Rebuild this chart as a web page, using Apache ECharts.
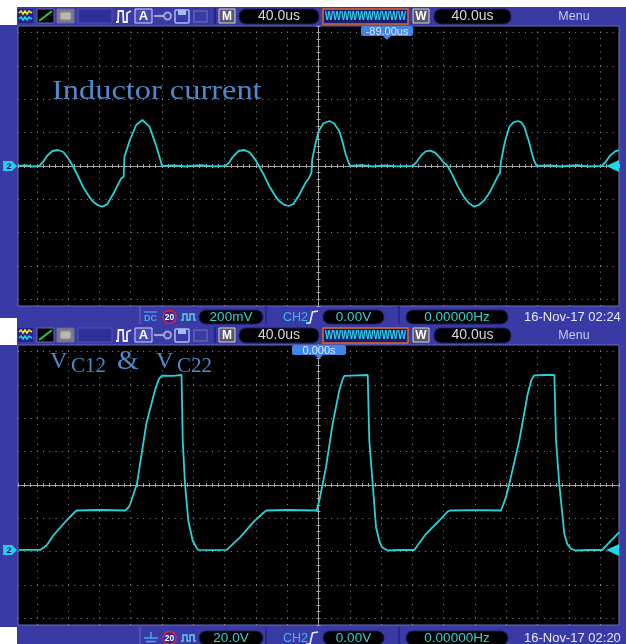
<!DOCTYPE html>
<html><head><meta charset="utf-8">
<script src="https://cdn.jsdelivr.net/npm/echarts@6/dist/echarts.min.js"></script>
<style>html,body{margin:0;padding:0;background:#fff}#c{width:626px;height:644px}</style>
</head><body><div id="c"></div>
<script>
// ---------- data (time in us, 40 us/div) ----------
// Inductor current trace (mV, 200 mV/div)
const currentT = [-383,-375,-366,-357,-352,-347,-340,-333,-326,-320,-314,-308,-301,-293,-288,-282,-276,-270,-262,-255,-252,-249,-248,-241,-233,-225,-216,-207,-202,-200,
  -185,-170,-150,-135,-119,-114,-109,-102,-95,-88,-82,-76,-70,-63,-55,-50,-44,-38,-32,-24,-17,-12,-9,-8,-4,0,6,14,20,27,31,35,39,40,
  55,70,85,100,120,125,131,137,143,149,155,159,165,171,178,186,192,199,205,212,218,224,230,232,233,237,240,244,249,255,259,263,269,273,276,279,
  295,310,330,345,362,367,372,379,384];
const currentMV = [0,5,-3,0,24,60,90,96,84,48,0,-54,-124,-185,-214,-235,-244,-230,-165,-100,-74,-64,56,156,246,276,236,116,36,0,
  4,-3,5,-2,0,22,58,90,96,82,46,0,-52,-120,-182,-212,-232,-240,-228,-168,-104,-70,-40,40,130,206,255,270,255,206,140,66,16,0,
  5,-3,4,-2,0,22,62,88,92,80,50,26,0,-52,-122,-186,-222,-244,-234,-205,-164,-110,-54,-40,20,120,176,236,262,270,262,236,146,70,26,0,
  4,-3,5,-2,0,24,60,88,95];
// V_C12 & V_C22 trace (V, 20 V/div)
const voltT = [-383,-355,-347,-339,-322,-312,-309,-280,-247,-243,-241,-232,-220,-209,-204,-200,-186,-175,-173.5,-170.6,-166.4,-160.8,-156,-153.6,-135,-117.3,
  -100.3,-83.3,-70,-66.2,-40,-2.3,1,5.4,9.6,18.1,26.6,31,33,50,62.9,64.9,69.3,73.5,78,81.2,88.4,105,122.4,137.4,154.4,165,168.1,200,
  233.2,239.6,243.8,256.6,267.4,272,275.8,290,301.4,303.5,307.7,314.1,318,322.7,329.1,345,362.3,384.4];
const voltV = [-38.9,-38.9,-36,-30.3,-21.3,-16.5,-15.3,-15.0,-15.3,-13.5,-12.0,0.7,36.8,56.8,63.5,65.6,65.5,66.0,26.7,0.7,-21.3,-33.3,-37.5,-38.9,-39.1,-38.9,
  -31.4,-22.3,-16.5,-15.3,-15.0,-15.3,-9.3,0.7,10.7,36.8,56.8,63.5,65.5,65.8,66.0,26.7,0.7,-25.3,-34,-37.4,-39.3,-39.0,-39.0,-29.3,-21.3,-16,-15.3,-15.1,
  -15.3,-7.3,0.7,26.7,54.8,63,65.8,66.0,66.0,26.7,0.7,-29.3,-35.5,-38.3,-39.3,-39.0,-39.0,-28.3];
// graticule divisions
const divX = [-360,-320,-280,-240,-200,-160,-120,-80,-40,40,80,120,160,200,240,280,320,360];
const divYTop = [-800,-600,-400,-200,200,400,600,800];
const divYBot = [-80,-60,-40,-20,20,40,60,80];
// texts
const timeBase = '40.0us';
const scaleTop = '200mV', scaleBot = '20.0V';
const trigLevel = '0.00V', freqText = '0.00000Hz';
const dateTop = '16-Nov-17 02:24', dateBot = '16-Nov-17 02:20';
const markTop = '-89.00us', markBot = '0.000s';
const titleTop = 'Inductor current';

// ---------- styling ----------
const BLUE = '#3a3aa6', DARKSEP = '#26267e', TRACE = '#25d3d6', GRAT = '#8e8e8e', CENTER = '#a4a4a4', LABEL = '#4f89cc';
const SANS = '"Liberation Sans", Arial, sans-serif';
const SERIF = '"Liberation Serif", "Times New Roman", serif';

function pair(a, b) { return a.map((t, i) => [t, b[i]]); }

function tstyle(text, x, y, font, color, align, valign) {
  return { text, x, y, fill: color, font, textAlign: align || 'center', align: align || 'center',
    textVerticalAlign: valign || 'middle', verticalAlign: valign || 'middle' };
}
function txt(text, x, y, size, color, align) {
  return { type: 'text', z: 22, style: tstyle(text, x, y, size + 'px ' + SANS, color, align) };
}
function btxt(text, x, y, size, color) {
  return { type: 'text', z: 22, style: tstyle(text, x, y, 'bold ' + size + 'px ' + SANS, color) };
}
function rect(x, y, w, h, fill, stroke, r, lw) {
  return { type: 'rect', z: 20, shape: { x, y, width: w, height: h, r: r || 0 }, style: { fill: fill, stroke: stroke || null, lineWidth: lw || 1 } };
}
function pl(points, stroke, lw) { return { type: 'polyline', z: 21, shape: { points }, style: { stroke, lineWidth: lw || 1, fill: null } }; }
function ln(x1, y1, x2, y2, stroke, lw) { return { type: 'line', z: 21, shape: { x1, y1, x2, y2 }, style: { stroke, lineWidth: lw || 1 } }; }

function toolbar(oy) {
  const e = [];
  e.push(rect(18, oy + 9, 15, 14, '#22228a'));
  e.push(pl([[19, oy + 13], [21, oy + 11], [23, oy + 14], [25, oy + 11], [27, oy + 14], [29, oy + 11], [32, oy + 13]], '#f2e21e', 1.6));
  e.push(pl([[19, oy + 19], [21, oy + 17], [23, oy + 20], [25, oy + 17], [27, oy + 20], [29, oy + 17], [32, oy + 19]], '#22d0e4', 1.6));
  e.push(rect(37, oy + 9, 17, 14, '#000', '#6a6ab4'));
  e.push(ln(39, oy + 21, 52, oy + 11, '#22cc44', 2));
  e.push(rect(57, oy + 9, 17, 14, '#7a7a7a', '#6a6ab4'));
  e.push(rect(60, oy + 12, 11, 8, '#b8b8b8', '#8a8a8a', 2));
  e.push(rect(78, oy + 9, 34, 14, '#2f2f98', '#5252b4'));
  e.push(pl([[116, oy + 22], [118, oy + 22], [118.5, oy + 11], [123, oy + 11], [123.5, oy + 22], [127, oy + 22], [127, oy + 13], [131, oy + 11]], '#f0f0ff', 1.8));
  e.push(rect(135, oy + 9, 17, 14, '#4848b8', '#cfd6f4'));
  e.push(btxt('A', 143.5, oy + 16.5, 13, '#ffffff'));
  e.push(ln(154, oy + 16, 164, oy + 16, '#a2a2d0', 2.2));
  e.push({ type: 'circle', z: 21, shape: { cx: 167.5, cy: oy + 16, r: 3.5 }, style: { fill: null, stroke: '#a2a2d0', lineWidth: 2 } });
  e.push(rect(175, oy + 10, 14, 13, '#3a3aa6', '#a6bcf4', 1, 1.5));
  e.push(rect(178, oy + 10, 8, 5, '#a6bcf4'));
  e.push(rect(194, oy + 11, 13, 11, null, '#6262ae', 0, 1.5));
  e.push(ln(215, oy + 8, 215, oy + 24, DARKSEP, 2));
  e.push(rect(219, oy + 9, 16, 14, '#58586a', '#d4d4d4'));
  e.push(btxt('M', 227, oy + 16.5, 12, '#ffffff'));
  e.push(rect(239, oy + 9, 80, 15, '#000', '#1e1e60', 7));
  e.push(txt(timeBase, 279, oy + 16.5, 14, '#d8d8d8'));
  e.push(rect(323, oy + 9, 85, 15, '#1c1c70', '#e06a22', 0, 1.5));
  e.push({ type: 'text', z: 22, scaleX: 0.66, originX: 365.5, originY: oy + 16.5,
    style: tstyle('WWWWWWWWWW', 365.5, oy + 16.5, 'bold 13px ' + SANS, '#2ad6e6') });
  e.push(rect(413, oy + 9, 16, 14, '#58586a', '#d4d4d4'));
  e.push(btxt('W', 421, oy + 16.5, 12, '#ffffff'));
  e.push(rect(434, oy + 9, 77, 15, '#000', '#1e1e60', 7));
  e.push(txt(timeBase, 472.5, oy + 16.5, 14, '#d8d8d8'));
  e.push(txt('Menu', 574, oy + 17, 12.5, '#c2c8f0'));
  return e;
}

function status(oy, scale, date, ground) {
  const e = [];
  e.push(ln(140, oy + 306, 140, oy + 324, '#6c6cc0', 1));
  if (ground) {
    e.push(ln(151, oy + 311, 151, oy + 317, '#42aaf2', 1.5));
    e.push(ln(144, oy + 317, 158, oy + 317, '#42aaf2', 1.5));
    e.push(ln(146, oy + 320.5, 156, oy + 320.5, '#42aaf2', 1.5));
  } else {
    e.push(ln(144, oy + 312, 157, oy + 312, '#42aaf2', 1.2));
    e.push(btxt('DC', 150.5, oy + 318.5, 9, '#42aaf2'));
  }
  e.push({ type: 'circle', z: 21, shape: { cx: 169.5, cy: oy + 317, r: 6.5 }, style: { fill: '#2a2aa8', stroke: '#e02030', lineWidth: 1.5 } });
  e.push(btxt('20', 169.5, oy + 317.5, 8.5, '#ffffff'));
  e.push(pl([[181, oy + 320], [183, oy + 320], [183, oy + 314], [187, oy + 314], [187, oy + 320], [190, oy + 320], [190, oy + 314], [194, oy + 314], [194, oy + 320], [196, oy + 320]], '#5ccae8', 1.5));
  e.push(rect(199, oy + 310, 64, 14, '#000', '#1e1e60', 7));
  e.push(txt(scale, 231, oy + 317.5, 13.5, '#2fd4d4'));
  e.push(ln(266, oy + 306, 266, oy + 324, DARKSEP, 1.5));
  e.push(txt('CH2', 283, oy + 317.5, 12.5, '#40b6f6', 'left'));
  e.push(pl([[306, oy + 323], [310, oy + 323], [312.5, oy + 312], [318, oy + 311]], '#dcefff', 1.6));
  e.push(rect(323, oy + 310, 61, 14, '#000', '#1e1e60', 7));
  e.push(txt(trigLevel, 353.5, oy + 317.5, 13.5, '#2fd4d4'));
  e.push(ln(399, oy + 306, 399, oy + 324, DARKSEP, 1.5));
  e.push(rect(406, oy + 310, 102, 14, '#000', '#1e1e60', 7));
  e.push(txt(freqText, 457, oy + 317.5, 13.5, '#2fd4d4'));
  e.push(txt(date, 524, oy + 317.5, 13, '#e6e6f6', 'left'));
  return e;
}

function marker(x, y, w, label, px) {
  return [
    rect(x, y, w, 10, '#3f86e8', null, 2),
    { type: 'polygon', z: 21, shape: { points: [[px - 4, y + 10], [px + 4, y + 10], [px, y + 14]] }, style: { fill: '#3f86e8' } },
    txt(label, x + w / 2, y + 5.5, 11, '#dcecff')
  ];
}
function chMarker(cy) {
  return [
    { type: 'polygon', z: 21, shape: { points: [[3, cy - 5], [12, cy - 5], [17, cy], [12, cy + 5], [3, cy + 5]] }, style: { fill: '#22d0e4' } },
    btxt('2', 9, cy + 0.5, 9, '#1c1c7a')
  ];
}
function trigMarker(cy) {
  return { type: 'polygon', z: 21, shape: { points: [[619, cy - 6], [619, cy + 6], [606, cy]] }, style: { fill: '#22d6e6' } };
}
function serif(text, x, y, size) {
  return { type: 'text', z: 22, style: tstyle(text, x, y, size + 'px ' + SERIF, LABEL, 'left', 'bottom') };
}

const graphics = [].concat(
  [{ type: 'rect', z: -10, shape: { x: 17, y: 7, width: 609, height: 637 }, style: { fill: BLUE } },
   { type: 'rect', z: -10, shape: { x: 0, y: 25, width: 17, height: 293 }, style: { fill: BLUE } },
   { type: 'rect', z: -10, shape: { x: 0, y: 345, width: 17, height: 282 }, style: { fill: BLUE } }],
  toolbar(0), status(0, scaleTop, dateTop, false),
  toolbar(319), status(321, scaleBot, dateBot, true),
  marker(361, 26, 52, markTop, 387), marker(292, 345, 54, markBot, 319),
  chMarker(166), chMarker(550), [trigMarker(166), trigMarker(550)],
  [{ type: 'text', z: 22, scaleX: 1.2, originX: 52, originY: 92,
     style: tstyle(titleTop, 52, 92, '27px ' + SERIF, LABEL, 'left', 'middle') },
   serif('V', 50, 374, 24),
   serif('C12', 71, 377, 21),
   serif('&', 117, 375.5, 28),
   serif('V', 156, 374, 24),
   serif('C22', 177, 377, 21)]
);

function xAx(grid, pos, zeroIdx) {
  return { type: 'value', gridIndex: grid, position: pos, min: -384, max: 384, interval: 8,
    axisLine: { show: true, onZero: true, onZeroAxisIndex: zeroIdx, lineStyle: { color: CENTER, width: 1 } },
    axisTick: { show: true, length: 2, lineStyle: { color: CENTER } }, axisLabel: { show: false }, splitLine: { show: false } };
}
function yAx(grid, pos, zeroIdx, lim, step) {
  return { type: 'value', gridIndex: grid, position: pos, min: -lim, max: lim, interval: step,
    axisLine: { show: true, onZero: true, onZeroAxisIndex: zeroIdx, lineStyle: { color: CENTER, width: 1 } },
    axisTick: { show: true, length: 2, lineStyle: { color: CENTER } }, axisLabel: { show: false }, splitLine: { show: false } };
}
function graticule(xi, yi, divY) {
  return { type: 'line', xAxisIndex: xi, yAxisIndex: yi, data: [[0, 0]], showSymbol: false, symbol: 'none', z: 1,
    lineStyle: { opacity: 0 }, silent: true, animation: false,
    markLine: { silent: true, symbol: ['none', 'none'], animation: false, label: { show: false },
      lineStyle: { color: GRAT, width: 1, type: [1, 5.26] },
      data: divX.map(v => ({ xAxis: v, lineStyle: { color: GRAT, width: 1, type: [1, 5.67] } }))
        .concat(divY.map(v => ({ yAxis: v }))) } };
}

const chart = echarts.init(document.getElementById('c'), null, { renderer: 'canvas', width: 626, height: 644 });
chart.setOption({
  animation: false,
  backgroundColor: '#ffffff',
  grid: [
    { left: 18, top: 26, width: 601, height: 280, show: true, backgroundColor: '#000', borderColor: '#6a6ab8', borderWidth: 1 },
    { left: 18, top: 345, width: 601, height: 280, show: true, backgroundColor: '#000', borderColor: '#6a6ab8', borderWidth: 1 }
  ],
  xAxis: [xAx(0, 'bottom', 0), xAx(0, 'top', 0), xAx(1, 'bottom', 2), xAx(1, 'top', 2)],
  yAxis: [yAx(0, 'left', 0, 840, 40), yAx(0, 'right', 0, 840, 40), yAx(1, 'left', 2, 84, 4), yAx(1, 'right', 2, 84, 4)],
  series: [
    graticule(0, 0, divYTop),
    graticule(2, 2, divYBot),
    { type: 'line', name: 'Inductor current', xAxisIndex: 0, yAxisIndex: 0, data: pair(currentT, currentMV), symbol: 'none', z: 3,
      lineStyle: { color: TRACE, width: 1.8 } },
    { type: 'line', name: 'VC12 & VC22', xAxisIndex: 2, yAxisIndex: 2, data: pair(voltT, voltV), symbol: 'none', z: 3,
      lineStyle: { color: TRACE, width: 1.8 } }
  ],
  graphic: { elements: graphics }
});
</script></body></html>
